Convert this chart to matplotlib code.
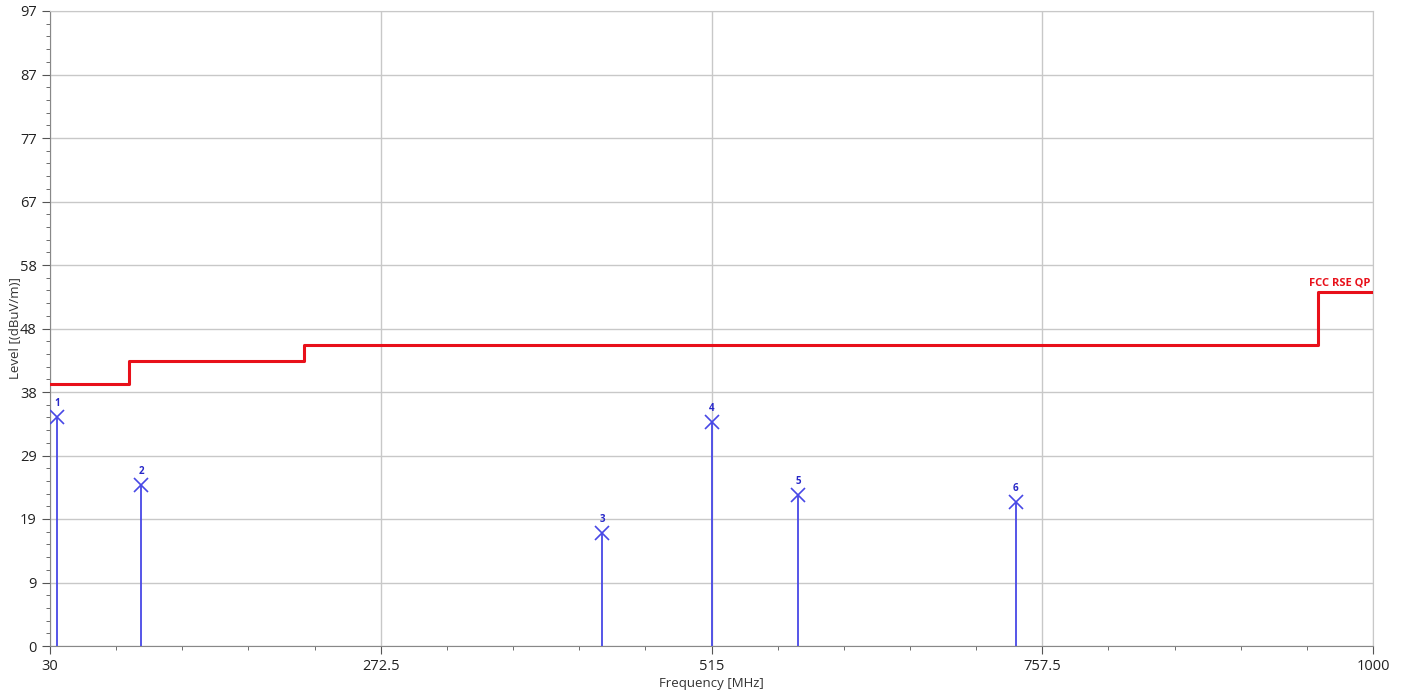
import numpy as np
import matplotlib
matplotlib.use("Agg")
import matplotlib.pyplot as plt
from matplotlib.ticker import AutoMinorLocator

plt.rcParams['font.family'] = ['Open Sans', 'DejaVu Sans']

# limit line FCC RSE QP (MHz, dBuV/m)
limit_f = [30, 88, 88, 216, 216, 960, 960, 1000]
limit_lv = [40, 40, 43.5, 43.5, 46, 46, 54, 54]

# peaks
peak_no = ['1', '2', '3', '4', '5', '6']
peak_f = [35.2, 96.7, 434.7, 515.3, 578.4, 738.2]
peak_lv = [35.0, 24.6, 17.3, 34.2, 23.1, 22.0]

xticks = [30, 272.5, 515, 757.5, 1000]
xticklabels = ['30', '272.5', '515', '757.5', '1000']
yticklabels = ['0', '9', '19', '29', '38', '48', '58', '67', '77', '87', '97']

fig = plt.figure(figsize=(14.05, 6.94), dpi=100)
ax = fig.add_axes([50/1405, 1-646/694, 1323/1405, 635/694])

ax.plot(limit_f, limit_lv, color='#e8101a', lw=2.2, zorder=3)
ax.text(limit_f[-1] - 2, limit_lv[-1] + 0.6, 'FCC RSE QP', color='#e8101a',
        fontsize=8, fontweight='bold', ha='right', va='bottom')

blue = '#4848e6'
ax.vlines(peak_f, 0, peak_lv, color=blue, lw=1.3, zorder=3)
ax.plot(peak_f, peak_lv, 'x', color=blue, ms=10, mew=1.2, zorder=4)
for n, f, lv in zip(peak_no, peak_f, peak_lv):
    ax.text(f, lv + 1.2, n, color='#2828c8', fontsize=7, fontweight='bold',
            ha='center', va='bottom')

ax.set_xlim(30, 1000)
ax.set_ylim(0, 97)
ax.set_xticks(xticks)
ax.set_xticklabels(xticklabels)
ax.set_yticks(np.linspace(0, 97, 11))
ax.set_yticklabels(yticklabels)
ax.xaxis.set_minor_locator(AutoMinorLocator(5))
ax.yaxis.set_minor_locator(AutoMinorLocator(5))
ax.tick_params(which='major', length=6, color='#555555', labelsize=10.5, labelcolor='#222222')
ax.tick_params(which='minor', length=3, color='#555555')
ax.grid(True, which='major', color='#c8c8c8', lw=1)
for s in ax.spines.values():
    s.set_color('#c8c8c8')
ax.spines['left'].set_color('#888888')
ax.spines['bottom'].set_color('#888888')

ax.set_xlabel('Frequency [MHz]', fontsize=9.5, color='#333333', labelpad=2)
ax.set_ylabel('Level [(dBuV/m)]', fontsize=9.5, color='#333333')
ax.yaxis.set_label_coords(-0.021, 0.5)

fig.savefig('out.png', dpi=100)
